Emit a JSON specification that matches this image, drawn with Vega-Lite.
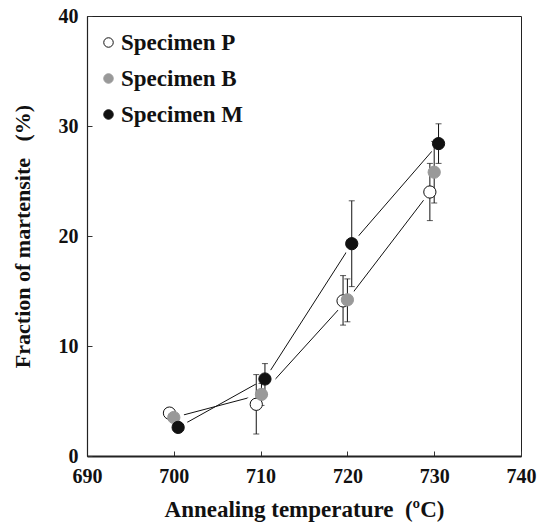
{
  "$schema": "https://vega.github.io/schema/vega-lite/v6.json",
  "width": 434,
  "height": 440,
  "autosize": "none",
  "padding": {"left": 87, "top": 16, "right": 19, "bottom": 69},
  "background": "white",
  "config": {
    "view": {"stroke": "#222", "strokeWidth": 1},
    "font": "Liberation Serif",
    "axis": {
      "grid": false,
      "tickSize": -5,
      "tickColor": "#333",
      "domainColor": "#222",
      "labelFont": "Liberation Serif",
      "labelFontWeight": "bold",
      "labelFontSize": 20,
      "labelColor": "#111",
      "labelFlush": false,
      "labelOverlap": false,
      "titleFont": "Liberation Serif",
      "titleFontWeight": "bold",
      "titleColor": "#111"
    }
  },
  "datasets": {
    "pts": [
      {"specimen": "Specimen P", "t": 699.5, "f": 3.9, "lo": 3.6, "hi": 4.2},
      {"specimen": "Specimen B", "t": 700.0, "f": 3.5, "lo": 3.2, "hi": 3.8},
      {"specimen": "Specimen M", "t": 700.5, "f": 2.6, "lo": 2.2, "hi": 3.0},
      {"specimen": "Specimen P", "t": 709.5, "f": 4.7, "lo": 2.0, "hi": 7.4},
      {"specimen": "Specimen B", "t": 710.1, "f": 5.6, "lo": 4.6, "hi": 6.6},
      {"specimen": "Specimen M", "t": 710.5, "f": 7.0, "lo": 5.6, "hi": 8.4},
      {"specimen": "Specimen P", "t": 719.5, "f": 14.1, "lo": 11.9, "hi": 16.4},
      {"specimen": "Specimen B", "t": 720.0, "f": 14.2, "lo": 12.2, "hi": 16.1},
      {"specimen": "Specimen M", "t": 720.5, "f": 19.3, "lo": 15.4, "hi": 23.2},
      {"specimen": "Specimen P", "t": 729.5, "f": 24.0, "lo": 21.4, "hi": 26.6},
      {"specimen": "Specimen B", "t": 730.0, "f": 25.8, "lo": 23.0, "hi": 28.6},
      {"specimen": "Specimen M", "t": 730.5, "f": 28.4, "lo": 26.6, "hi": 30.2}
    ],
    "lines": [
      {"line": "upper", "t": 700.5, "f": 2.6},
      {"line": "upper", "t": 710.5, "f": 7.0},
      {"line": "upper", "t": 720.5, "f": 19.3},
      {"line": "upper", "t": 730.5, "f": 28.4},
      {"line": "lower", "t": 700.0, "f": 3.5},
      {"line": "lower", "t": 710.1, "f": 5.6},
      {"line": "lower", "t": 720.0, "f": 14.2},
      {"line": "lower", "t": 729.5, "f": 24.0}
    ]
  },
  "encoding": {
    "x": {
      "field": "t",
      "type": "quantitative",
      "scale": {"domain": [690, 740], "nice": false, "zero": false},
      "axis": {
        "values": [690, 700, 710, 720, 730, 740],
        "domainWidth": 2,
        "labelPadding": 15,
        "title": "Annealing temperature\u00a0\u00a0(ºC)",
        "titleFontSize": 23,
        "titlePadding": 12
      }
    }
  },
  "layer": [
    {
      "data": {"name": "lines"},
      "mark": {"type": "line", "color": "#111", "strokeWidth": 1},
      "encoding": {
        "y": {
          "field": "f",
          "type": "quantitative",
          "scale": {"domain": [0, 40], "nice": false},
          "axis": {
            "values": [0, 10, 20, 30, 40],
            "domainWidth": 1.2,
            "labelPadding": 14,
            "title": "Fraction of martensite\u00a0\u00a0\u00a0(%)",
            "titleFontSize": 22,
            "titlePadding": 24
          }
        },
        "detail": {"field": "line"}
      }
    },
    {
      "data": {"name": "pts"},
      "mark": {"type": "circle", "size": 450, "color": "white", "opacity": 1},
      "encoding": {
        "y": {"field": "f", "type": "quantitative", "title": "Fraction of martensite\u00a0\u00a0\u00a0(%)"}
      }
    },
    {
      "data": {"name": "pts"},
      "mark": {"type": "errorbar", "ticks": {"size": 6, "color": "#111"}, "color": "#111", "thickness": 1},
      "encoding": {
        "y": {"field": "lo", "type": "quantitative", "title": "Fraction of martensite\u00a0\u00a0\u00a0(%)"},
        "y2": {"field": "hi"}
      }
    },
    {
      "data": {"name": "pts"},
      "mark": {"type": "point", "shape": "circle", "filled": true, "size": 150, "opacity": 1, "strokeWidth": 1},
      "encoding": {
        "y": {"field": "f", "type": "quantitative", "title": "Fraction of martensite\u00a0\u00a0\u00a0(%)"},
        "fill": {
          "field": "specimen",
          "type": "nominal",
          "scale": {"domain": ["Specimen P", "Specimen B", "Specimen M"], "range": ["#ffffff", "#999999", "#111111"]},
          "legend": {
            "orient": "none",
            "legendX": 10,
            "legendY": 15,
            "title": null,
            "labelFont": "Liberation Serif",
            "labelFontWeight": "bold",
            "labelFontSize": 23,
            "labelColor": "#111",
            "symbolSize": 90,
            "symbolStrokeWidth": 1,
            "symbolType": "circle",
            "rowPadding": 12,
            "labelOffset": 1,
            "padding": 0
          }
        },
        "stroke": {
          "field": "specimen",
          "type": "nominal",
          "scale": {"domain": ["Specimen P", "Specimen B", "Specimen M"], "range": ["#111111", "#999999", "#111111"]},
          "legend": {
            "orient": "none",
            "legendX": 10,
            "legendY": 15,
            "title": null,
            "labelFont": "Liberation Serif",
            "labelFontWeight": "bold",
            "labelFontSize": 23,
            "labelColor": "#111",
            "symbolSize": 90,
            "symbolStrokeWidth": 1,
            "symbolType": "circle",
            "rowPadding": 12,
            "labelOffset": 1,
            "padding": 0
          }
        }
      }
    }
  ]
}
